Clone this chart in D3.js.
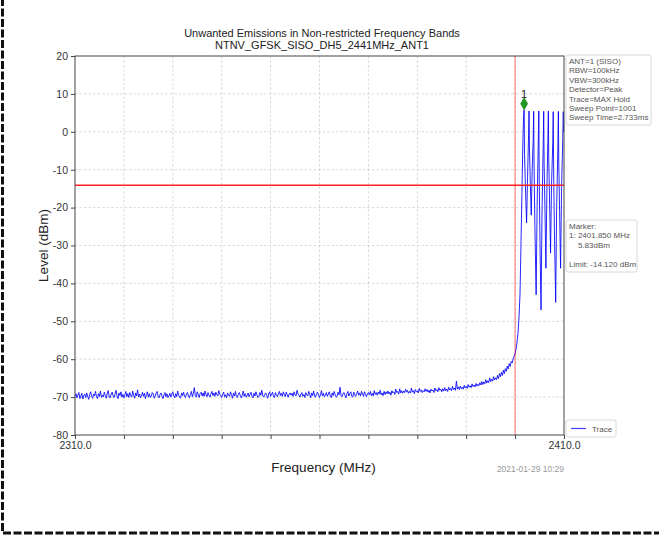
<!DOCTYPE html>
<html>
<head>
<meta charset="utf-8">
<script src="https://cdn.jsdelivr.net/npm/d3@7"></script>
<style>
  body { margin: 0; background: #fff; }
  svg { display: block; font-family: "Liberation Sans", Arial, sans-serif; }
</style>
</head>
<body>
<div id="my_dataviz"></div>
<script>
// Chart texts
const titleLines = ["Unwanted Emissions in Non-restricted Frequency Bands", "NTNV_GFSK_SISO_DH5_2441MHz_ANT1"];
const infoLines = ["ANT=1 (SISO)", "RBW=100kHz", "VBW=300kHz", "Detector=Peak", "Trace=MAX Hold", "Sweep Point=1001", "Sweep Time=2.733ms"];
const markerLines = ["Marker:", "1: 2401.850 MHz", "    5.83dBm", "", "Limit: -14.120 dBm"];
const timestamp = "2021-01-29 10:29";

// Axes
const xDomain = [2310, 2410];
const yDomain = [-80, 20];
const xTicks = [2310, 2320, 2330, 2340, 2350, 2360, 2370, 2380, 2390, 2400, 2410];
const yTicks = [-80, -70, -60, -50, -40, -30, -20, -10, 0, 10, 20];

// Limits and marker
const limitLevel = -14.12;
const bandEdge = 2400;
const marker = { freq: 2401.85, level: 5.83, label: "1" };

// Noise floor, sweep points from 2310 MHz every 0.2 MHz
const floorStart = 2310, floorStep = 0.2;
const floorLevels = [
  -69.8,-69.1,-70.2,-69.4,-68.8,-70.4,-69.7,-69.0,-70.5,-69.6,-69.2,-70.1,-68.9,-69.9,-70.6,-69.3,-68.6,-69.8,-70.3,-69.2,
  -69.7,-68.5,-69.9,-70.4,-69.1,-69.8,-68.4,-70.1,-69.5,-69.9,-68.7,-69.6,-70.3,-69.0,-68.3,-70.0,-70.2,-69.2,-68.7,-69.7,
  -70.1,-69.1,-68.2,-69.8,-70.4,-68.9,-69.6,-68.6,-70.0,-69.3,-70.2,-69.4,-68.5,-69.9,-69.1,-70.1,-68.8,-69.6,-70.0,-68.4,
  -69.5,-70.3,-68.9,-69.7,-68.1,-69.9,-69.2,-70.2,-69.6,-68.7,-69.8,-69.0,-70.4,-69.3,-68.6,-70.0,-69.1,-70.1,-69.7,-68.8,
  -69.2,-70.3,-69.8,-68.9,-68.5,-69.9,-70.2,-69.3,-68.9,-69.8,-70.4,-69.4,-68.8,-69.9,-69.1,-70.1,-69.7,-69.0,-70.0,-69.2,
  -68.6,-69.7,-70.2,-69.1,-69.9,-68.4,-69.5,-70.0,-70.3,-68.9,-69.6,-68.7,-69.8,-70.1,-69.2,-68.8,-69.7,-70.2,-69.3,-68.5,
  -69.9,-69.1,-67.5,-69.6,-70.0,-68.6,-69.4,-70.1,-69.0,-68.7,-69.7,-68.9,-69.8,-68.4,-69.4,-69.9,-68.8,-69.5,-70.0,-69.1,
  -68.5,-69.6,-68.9,-69.8,-68.7,-69.4,-69.7,-68.3,-69.2,-69.6,-70.1,-69.3,-68.7,-69.9,-69.4,-70.2,-68.9,-69.5,-69.8,-68.6,
  -69.4,-70.3,-69.0,-69.7,-68.5,-69.9,-70.1,-69.2,-68.8,-69.6,-70.2,-69.5,-68.4,-69.8,-69.1,-70.0,-69.6,-68.9,-69.9,-69.3,
  -68.7,-69.8,-70.2,-69.0,-69.7,-68.6,-69.4,-70.1,-69.9,-68.8,-69.5,-68.2,-69.7,-70.0,-69.3,-68.9,-69.6,-70.3,-69.2,-68.6,
  -69.8,-69.2,-68.7,-69.9,-70.1,-68.8,-69.5,-69.9,-69.1,-68.5,-69.6,-69.0,-69.8,-68.6,-69.3,-69.9,-68.7,-69.4,-70.0,-69.2,
  -68.9,-69.5,-69.0,-69.8,-68.6,-69.3,-69.7,-68.2,-69.1,-69.5,-70.0,-69.2,-68.8,-69.8,-69.3,-70.1,-68.8,-69.4,-69.7,-68.5,
  -69.3,-70.2,-68.9,-69.6,-68.4,-69.8,-70.0,-69.1,-68.7,-69.5,-70.1,-69.4,-68.3,-69.7,-69.0,-69.9,-69.5,-68.8,-69.8,-69.2,
  -68.6,-69.7,-70.1,-68.9,-69.6,-68.5,-69.3,-70.0,-69.8,-68.7,-69.4,-67.4,-69.6,-69.9,-69.2,-68.8,-69.5,-70.2,-69.1,-68.5,
  -69.7,-69.1,-68.6,-69.8,-70.0,-68.7,-69.4,-69.8,-69.0,-68.4,-69.5,-68.9,-69.7,-68.5,-69.2,-69.8,-68.6,-69.3,-69.9,-69.1,
  -68.8,-69.4,-68.5,-69.6,-69.0,-69.7,-68.3,-69.3,-68.8,-69.5,-68.7,-69.2,-68.2,-69.4,-68.9,-69.6,-68.5,-69.3,-68.6,-69.1,
  -68.4,-69.2,-68.7,-69.5,-68.3,-68.9,-68.6,-69.3,-67.9,-68.8,-68.5,-69.2,-67.8,-68.9,-68.3,-69.0,-68.4,-68.8,-67.9,-68.7,
  -68.2,-69.0,-68.5,-68.9,-67.6,-68.7,-68.3,-69.1,-68.0,-68.6,-68.4,-68.9,-67.7,-68.5,-68.1,-68.8,-68.3,-68.6,-67.8,-68.5,
  -68.0,-68.7,-68.2,-68.9,-67.9,-68.4,-68.1,-68.8,-67.6,-68.3,-68.0,-68.6,-67.5,-68.2,-67.9,
  -68.6,-67.8,-68.4,-67.5,-68.3,-67.9,-68.5,-67.4,-68.1,-67.7,-68.3,-67.2,-68.0,-67.6,-68.2,-65.8,-67.9,-67.3,-68.0,-67.1,
  -67.8,-67.4,-67.9,-66.9,-67.6,-67.2,-67.7,-66.7,-67.4,-67.0,-67.5,-66.5,-67.2,-66.8,-67.3,
  -66.4,-67.1,-66.6,-67.0,-66.2,-66.8,-65.9,-66.7,-66.0,-66.5,-65.4,-66.3,-65.7,-66.2,-64.9,-65.9,-65.3,-65.8,-64.6,-65.5,
  -64.9,-65.4,-64.3,-65.1,-63.8,-64.6,-63.5,-64.3,-62.9,-63.8,-62.5,-63.2,-61.8,-62.6,-61.2,-61.9,-60.6,-61.0,-59.9,-59.2,-58.5
];

// In-band part of the trace: [frequency MHz, level dBm]
const burstTrace = [
  [2400.3,-56.5],[2400.6,-53],[2400.8,-49],[2401.0,-43],[2401.2,-30],[2401.4,-16],[2401.6,-2],[2401.75,4.5],[2401.85,5.8],
  [2401.93,-6],[2402.1,-14],[2402.35,-24],[2402.55,-12],[2402.75,-1],[2402.85,5.5],
  [2402.93,-4],[2403.1,-13],[2403.3,-22],[2403.5,-10],[2403.7,-2],[2403.8,5.4],
  [2403.88,-9],[2404.05,-25],[2404.3,-43],[2404.5,-20],[2404.72,-4],[2404.85,5.5],
  [2404.93,-12],[2405.1,-30],[2405.3,-47],[2405.5,-22],[2405.75,-3],[2405.85,5.4],
  [2405.93,-8],[2406.1,-20],[2406.3,-36],[2406.5,-16],[2406.7,-2],[2406.8,5.5],
  [2406.88,-7],[2407.05,-18],[2407.25,-32],[2407.45,-14],[2407.7,-3],[2407.8,5.3],
  [2407.88,-10],[2408.05,-27],[2408.3,-45],[2408.5,-20],[2408.75,-4],[2408.85,5.4],
  [2408.93,-8],[2409.1,-21],[2409.3,-36],[2409.5,-15],[2409.75,-2],[2409.85,5.3],[2409.95,0]
];

const W = 659, H = 535;
const plot = { left: 75, right: 564, top: 56, bottom: 435 };

const svg = d3.select("#my_dataviz")
  .append("svg")
    .attr("width", W)
    .attr("height", H);

// Dashed page border (only left and bottom edges fall inside the view)
svg.append("rect")
  .attr("x", 2.5).attr("y", -20)
  .attr("width", 720).attr("height", 553)
  .attr("fill", "none")
  .attr("stroke", "#111")
  .attr("stroke-width", 3)
  .attr("stroke-dasharray", "8,2.5");

const x = d3.scaleLinear().domain(xDomain).range([plot.left, plot.right]);
const y = d3.scaleLinear().domain(yDomain).range([plot.bottom, plot.top]);

// Grid
const grid = svg.append("g")
  .attr("stroke", "#d0d0d0")
  .attr("stroke-width", 0.8)
  .attr("stroke-dasharray", "2.5,2");
grid.selectAll("line.h")
  .data(yTicks.slice(1, -1))
  .enter().append("line")
    .attr("x1", plot.left).attr("x2", plot.right)
    .attr("y1", d => y(d)).attr("y2", d => y(d));
grid.selectAll("line.v")
  .data(xTicks.slice(1, -1))
  .enter().append("line")
    .attr("x1", d => x(d)).attr("x2", d => x(d))
    .attr("y1", plot.top).attr("y2", plot.bottom);

// Trace
const trace = floorLevels.map((v, i) => [floorStart + i * floorStep, v]).concat(burstTrace);
const line = d3.line().x(d => x(d[0])).y(d => y(d[1]));
svg.append("path")
  .datum(trace)
  .attr("fill", "none")
  .attr("stroke", "#0000ff")
  .attr("stroke-opacity", 0.85)
  .attr("stroke-width", 1)
  .attr("d", line);

// Limit line and band edge
svg.append("line")
  .attr("x1", plot.left).attr("x2", plot.right)
  .attr("y1", y(limitLevel)).attr("y2", y(limitLevel))
  .attr("stroke", "#ff2020").attr("stroke-width", 1.6);
svg.append("line")
  .attr("x1", x(bandEdge)).attr("x2", x(bandEdge))
  .attr("y1", plot.top).attr("y2", plot.bottom)
  .attr("stroke", "#ff0000").attr("stroke-opacity", 0.55).attr("stroke-width", 1);

// Marker
const mx = x(marker.freq), my = y(marker.level) - 6;
svg.append("path")
  .attr("d", d3.symbol(d3.symbolDiamond, 42)())
  .attr("transform", `translate(${mx},${my})`)
  .attr("fill", "#1f9a1f")
  .attr("stroke", "#117011")
  .attr("stroke-width", 0.6);
svg.append("text")
  .attr("x", mx).attr("y", my - 6)
  .attr("text-anchor", "middle")
  .attr("font-size", 11)
  .attr("fill", "#222")
  .text(marker.label);

// Axes
const yAxis = svg.append("g")
  .attr("transform", `translate(${plot.left},0)`)
  .call(d3.axisLeft(y).tickValues(yTicks).tickSize(4).tickSizeOuter(0).tickPadding(3)
    .tickFormat(d => String(d)));
const xAxis = svg.append("g")
  .attr("transform", `translate(0,${plot.bottom})`)
  .call(d3.axisBottom(x).tickValues(xTicks).tickSize(4).tickSizeOuter(0).tickPadding(3)
    .tickFormat(d => (d === xDomain[0] || d === xDomain[1]) ? d.toFixed(1) : ""));
[yAxis, xAxis].forEach(a => {
  a.select(".domain").remove();
  a.selectAll(".tick line").attr("stroke", "#444");
  a.selectAll(".tick text")
    .attr("font-size", 10.5)
    .attr("fill", "#333")
    .style("font-family", "'Liberation Sans', Arial, sans-serif");
});

// Frame
svg.append("rect")
  .attr("x", plot.left).attr("y", plot.top)
  .attr("width", plot.right - plot.left).attr("height", plot.bottom - plot.top)
  .attr("fill", "none")
  .attr("stroke", "#444")
  .attr("stroke-width", 1);

// Title
svg.append("g").selectAll("text")
  .data(titleLines)
  .enter().append("text")
    .attr("x", 322)
    .attr("y", (d, i) => 37 + i * 12)
    .attr("text-anchor", "middle")
    .attr("font-size", 11)
    .attr("fill", "#222")
    .text(d => d);

// Axis labels
svg.append("text")
  .attr("x", (plot.left + plot.right) / 2 + 4)
  .attr("y", 472)
  .attr("text-anchor", "middle")
  .attr("font-size", 13.5)
  .attr("fill", "#222")
  .text("Frequency (MHz)");
svg.append("text")
  .attr("transform", `translate(48,${(plot.top + plot.bottom) / 2}) rotate(-90)`)
  .attr("text-anchor", "middle")
  .attr("font-size", 13.5)
  .attr("fill", "#222")
  .text("Level (dBm)");

svg.append("text")
  .attr("x", plot.right)
  .attr("y", 472)
  .attr("text-anchor", "end")
  .attr("font-size", 8.5)
  .attr("fill", "#999")
  .text(timestamp);

// Side boxes
function textBox(lines, bx, by, bw, bh) {
  const g = svg.append("g");
  g.append("rect")
    .attr("x", bx).attr("y", by).attr("width", bw).attr("height", bh)
    .attr("rx", 2)
    .attr("fill", "#fff")
    .attr("stroke", "#d8d8d8");
  g.selectAll("text")
    .data(lines)
    .enter().append("text")
      .attr("x", bx + 3)
      .attr("y", (d, i) => by + 9 + i * 9.4)
      .attr("font-size", 8)
      .attr("fill", "#555")
      .attr("xml:space", "preserve")
      .text(d => d);
}
textBox(infoLines, 566, 55, 85, 70);
textBox(markerLines, 566, 220, 71, 52);

// Legend
const legend = svg.append("g");
legend.append("rect")
  .attr("x", 566).attr("y", 420).attr("width", 50).attr("height", 17)
  .attr("rx", 2).attr("fill", "#fff").attr("stroke", "#d8d8d8");
legend.append("line")
  .attr("x1", 571).attr("x2", 586).attr("y1", 428.5).attr("y2", 428.5)
  .attr("stroke", "#0000ff").attr("stroke-opacity", 0.75).attr("stroke-width", 1.2);
legend.append("text")
  .attr("x", 592).attr("y", 431.5)
  .attr("font-size", 8)
  .attr("fill", "#555")
  .text("Trace");
</script>
</body>
</html>
